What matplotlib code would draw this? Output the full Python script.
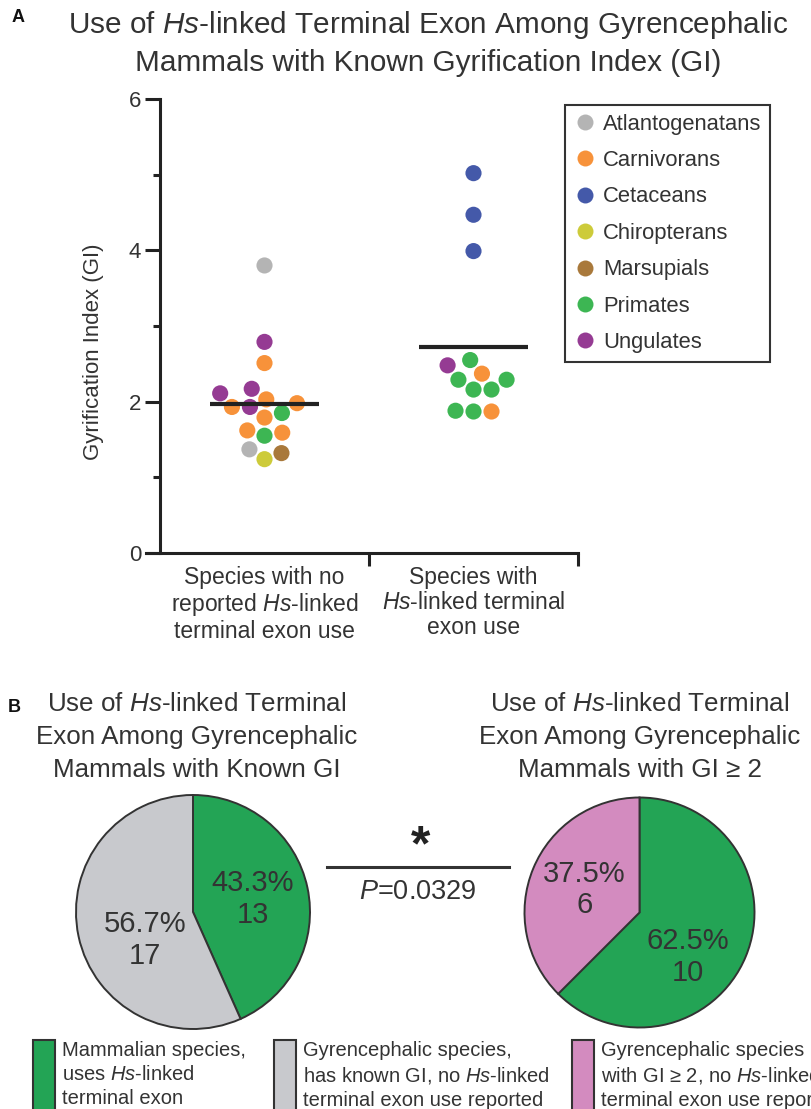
import numpy as np
import matplotlib
matplotlib.use("Agg")
import matplotlib.pyplot as plt
from matplotlib.lines import Line2D
from matplotlib.patches import Rectangle

plt.rcParams['font.family'] = ['Liberation Sans', 'DejaVu Sans']
plt.rcParams['mathtext.fontset'] = 'custom'
plt.rcParams['mathtext.rm'] = 'Liberation Sans'
plt.rcParams['mathtext.it'] = 'Liberation Sans:italic'
plt.rcParams['text.color'] = '#333333'

# ---- data ----
categories = ['Species with no\nreported $\\mathit{Hs}$-linked\nterminal exon use',
              'Species with\n$\\mathit{Hs}$-linked terminal\nexon use']

clades = ['Atlantogenatans', 'Carnivorans', 'Cetaceans', 'Chiropterans',
          'Marsupials', 'Primates', 'Ungulates']

no_hs_gi = [3.80, 2.79, 2.51, 2.17, 2.11, 2.03, 1.98, 1.93, 1.93, 1.85,
            1.79, 1.62, 1.59, 1.55, 1.37, 1.32, 1.24]
no_hs_clade = ['Atlantogenatans', 'Ungulates', 'Carnivorans', 'Ungulates',
               'Ungulates', 'Carnivorans', 'Carnivorans', 'Carnivorans',
               'Ungulates', 'Primates', 'Carnivorans', 'Carnivorans',
               'Carnivorans', 'Primates', 'Atlantogenatans', 'Marsupials',
               'Chiropterans']

hs_gi = [5.02, 4.47, 3.99, 2.55, 2.48, 2.37, 2.29, 2.29, 2.16, 2.16,
         1.88, 1.87, 1.87]
hs_clade = ['Cetaceans', 'Cetaceans', 'Cetaceans', 'Primates', 'Ungulates',
            'Carnivorans', 'Primates', 'Primates', 'Primates', 'Primates',
            'Primates', 'Carnivorans', 'Primates']

pie_known_gi = [13, 17]     # uses Hs-linked, not reported
pie_gi_over2 = [10, 6]
p_value = 0.0329

# ---- style ----
clade_colors = {
    'Atlantogenatans': '#b4b4b4',
    'Carnivorans': '#f7923a',
    'Cetaceans': '#4459a9',
    'Chiropterans': '#cdcb3a',
    'Marsupials': '#a9793b',
    'Primates': '#3db653',
    'Ungulates': '#953b93',
}
green = '#23a455'
grey = '#c8c9cd'
pink = '#d38bbf'
dark = '#333333'

W, H = 812, 1109
fig = plt.figure(figsize=(W / 100, H / 100), dpi=100)


def fx(px):
    return px / W


def fy(py):
    return 1 - py / H


# ---- panel A ----
ax = fig.add_axes([fx(160), fy(553), fx(578 - 160), (553 - 99) / H])
ax.set_xlim(-0.5, 1.5)
ax.set_ylim(0, 6)

px_per_x = (578 - 160) / 2.0
px_per_y = (553 - 99) / 6.0


def swarm_x(values, center, diam=18.0):
    ys = np.asarray(values) * px_per_y
    xs = np.zeros(len(ys))
    placed = []
    for i in np.argsort(ys):
        cands = [0.0]
        for xj, yj in placed:
            dy = ys[i] - yj
            if abs(dy) < diam:
                dx = np.sqrt(diam ** 2 - dy ** 2)
                cands += [xj + dx, xj - dx]
        cands.sort(key=abs)
        for c in cands:
            if all((c - xj) ** 2 + (ys[i] - yj) ** 2 >= diam ** 2 - 1e-6
                   for xj, yj in placed):
                xs[i] = c
                break
        placed.append((xs[i], ys[i]))
    return center + xs / px_per_x


for pos, vals, cl in [(0, no_hs_gi, no_hs_clade), (1, hs_gi, hs_clade)]:
    xs = swarm_x(vals, pos)
    ax.scatter(xs, vals, s=135, c=[clade_colors[c] for c in cl],
               edgecolors='none', zorder=3)
    m = np.mean(vals)
    ax.plot([pos - 0.26, pos + 0.26], [m, m], color='#222222', lw=3.0,
            solid_capstyle='butt', zorder=4)

for s in ['top', 'right']:
    ax.spines[s].set_visible(False)
for s in ['left', 'bottom']:
    ax.spines[s].set_linewidth(2.2)
    ax.spines[s].set_color('#222222')
ax.spines['bottom'].set_bounds(-0.5 - 14 / px_per_x, 1.5)

ax.set_yticks([0, 2, 4, 6])
ax.set_yticks([1, 3, 5], minor=True)
ax.tick_params(axis='y', which='major', length=10.5, width=2.2,
               color='#222222', labelsize=16, labelcolor=dark, pad=3)
ax.tick_params(axis='y', which='minor', length=5, width=2.2, color='#222222')
ax.set_xticks([0, 1])
ax.set_xticklabels(categories, fontsize=16.5, color=dark, linespacing=1.12)
ax.set_xticks([0.5, 1.5], minor=True)
ax.tick_params(axis='x', which='major', length=0, pad=9)
ax.tick_params(axis='x', which='minor', length=9.5, width=2.2,
               color='#222222')
ax.set_ylabel('Gyrification Index (GI)', fontsize=16, color=dark)
ax.yaxis.set_label_coords(-0.133, 0.443)

handles = [Line2D([], [], marker='o', ls='none', markersize=11.5,
                  markerfacecolor=clade_colors[c], markeredgecolor='none',
                  label=c) for c in clades]
leg = ax.legend(handles=handles, loc='upper left',
                bbox_to_anchor=(fx(565), fy(105)),
                bbox_transform=fig.transFigure, borderaxespad=0,
                fontsize=15.8, frameon=True, fancybox=False, framealpha=1,
                borderpad=0.4, handlelength=1.0, handletextpad=0.33,
                labelspacing=0.7)
leg.get_frame().set_edgecolor(dark)
leg.get_frame().set_linewidth(1.5)
for t in leg.get_texts():
    t.set_color(dark)

fig.text(fx(428), fy(43), 'Use of $\\mathit{Hs}$-linked Terminal Exon Among '
         'Gyrencephalic\nMammals with Known Gyrification Index (GI)',
         ha='center', va='center', fontsize=21.4, linespacing=1.33)
fig.text(fx(12), fy(18), 'A', fontsize=13, fontweight='bold', color='#111111',
         va='center')

# ---- panel B ----
fig.text(fx(8), fy(708), 'B', fontsize=13, fontweight='bold', color='#111111',
         va='center')


def draw_pie(cx, cy, r, counts, colors, nudges):
    pa = fig.add_axes([fx(cx - r - 3), fy(cy + r + 3), (2 * r + 6) / W,
                       (2 * r + 6) / H])
    total = sum(counts)
    _, _, autotexts = pa.pie(
        counts, colors=colors, startangle=90, counterclock=False,
        autopct=lambda p: '%.1f%%\n%d' % (p, round(p * total / 100)),
        pctdistance=0.52,
        wedgeprops=dict(edgecolor=dark, linewidth=1.4),
        textprops=dict(fontsize=21, color=dark, linespacing=1.17))
    for t, (dx, dy) in zip(autotexts, nudges):
        x, y = t.get_position()
        t.set_position((x + dx, y + dy))
    lim = 1 + 3 / r
    pa.set_xlim(-lim, lim)
    pa.set_ylim(-lim, lim)
    pa.set_aspect('equal')
    return pa


draw_pie(193, 912, 117, pie_known_gi, [green, grey],
         [(0.0, 0.0), (0.1, -0.13)])
draw_pie(639.5, 912.5, 115, pie_gi_over2, [green, pink],
         [(-0.06, -0.19), (0.0, 0.0)])

fig.text(fx(197), fy(737), 'Use of $\\mathit{Hs}$-linked Terminal\nExon Among '
         'Gyrencephalic\nMammals with Known GI', ha='center', va='center',
         fontsize=18.7, linespacing=1.47)
fig.text(fx(639.5), fy(737), 'Use of $\\mathit{Hs}$-linked Terminal\nExon '
         'Among Gyrencephalic\nMammals with GI \u2265 2', ha='center',
         va='center', fontsize=18.7, linespacing=1.47)

fig.text(fx(421), fy(847), '*', ha='center', va='center', fontsize=36,
         fontweight='bold', color='#222222')
fig.add_artist(Line2D([fx(327), fx(509)], [fy(867), fy(867)],
                      transform=fig.transFigure, color='#333333', lw=2.2))
fig.text(fx(418), fy(892), '$\\mathit{P}$=%.4f' % p_value, ha='center',
         va='center', fontsize=19.5)

# bottom key
key = [(33, green, 'Mammalian species,\nuses $\\mathit{Hs}$-linked\n'
        'terminal exon'),
       (274, grey, 'Gyrencephalic species,\nhas known GI, no '
        '$\\mathit{Hs}$-linked\nterminal exon use reported'),
       (572, pink, 'Gyrencephalic species\nwith GI \u2265 2, no '
        '$\\mathit{Hs}$-linked\nterminal exon use reported')]
for x0, col, txt in key:
    fig.add_artist(Rectangle((fx(x0), -0.02), 22 / W, (H - 1040) / H + 0.02,
                             transform=fig.transFigure, facecolor=col,
                             edgecolor=dark, lw=1.5))
    fig.text(fx(x0 + 29), fy(1041), txt, ha='left', va='top', fontsize=14.5,
             linespacing=1.33)

fig.savefig('out.png', dpi=100)
